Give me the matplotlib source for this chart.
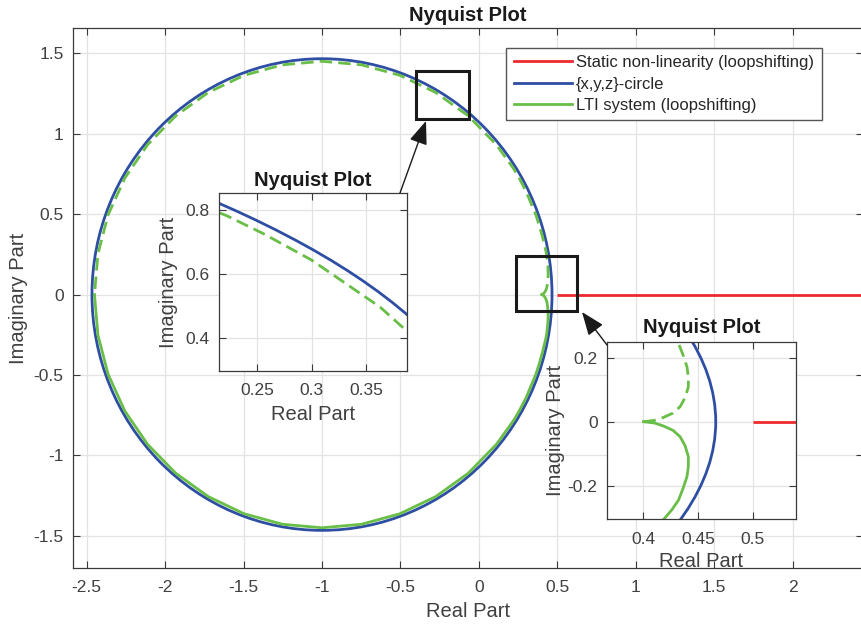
import matplotlib
matplotlib.use("Agg")
import matplotlib.pyplot as plt
from matplotlib.patches import Circle, Rectangle, FancyArrowPatch
from matplotlib.lines import Line2D

plt.rcParams['font.family'] = ['Liberation Sans', 'DejaVu Sans']
plt.rcParams['axes.unicode_minus'] = False

# ---------------- data ----------------
# {x,y,z}-circle: center on real axis and radius
circle_center = -1.0
circle_radius = 1.466

# Static non-linearity (loopshifting): real axis from 0.5 to infinity
red_x = [0.5, 100.0]
red_y = [0.0, 0.0]

# LTI system (loopshifting) -- upper half (dashed), from cusp to left end
lti_upper_x = [0.400, 0.410, 0.418, 0.427, 0.4335, 0.438, 0.441, 0.441, 0.4397, 0.436,
               0.432, 0.426, 0.418, 0.405, 0.385, 0.363, 0.300, 0.256, 0.2224, 0.111,
               -0.068, -0.275, -0.504, -0.748, -1.000, -1.252, -1.496, -1.725, -1.932,
               -2.111, -2.256, -2.363, -2.428, -2.450]
lti_upper_y = [0.000, 0.004, 0.013, 0.027, 0.047, 0.075, 0.109, 0.140, 0.172, 0.210,
               0.245, 0.275, 0.307, 0.360, 0.429, 0.496, 0.643, 0.725, 0.781, 0.932,
               1.111, 1.256, 1.363, 1.428, 1.450, 1.428, 1.363, 1.256, 1.111,
               0.932, 0.725, 0.496, 0.252, 0.000]
# lower half (solid), mirror image
lti_lower_x = list(lti_upper_x)
lti_lower_y = [-v for v in lti_upper_y]

# ticks
main_xticks = [-2.5, -2, -1.5, -1, -0.5, 0, 0.5, 1, 1.5, 2]
main_xticklabels = ['-2.5', '-2', '-1.5', '-1', '-0.5', '0', '0.5', '1', '1.5', '2']
main_yticks = [-1.5, -1, -0.5, 0, 0.5, 1, 1.5]
main_yticklabels = ['-1.5', '-1', '-0.5', '0', '0.5', '1', '1.5']
in1_xticks = [0.25, 0.3, 0.35]
in1_xticklabels = ['0.25', '0.3', '0.35']
in1_yticks = [0.4, 0.6, 0.8]
in1_yticklabels = ['0.4', '0.6', '0.8']
in2_xticks = [0.4, 0.45, 0.5]
in2_xticklabels = ['0.4', '0.45', '0.5']
in2_yticks = [-0.2, 0, 0.2]
in2_yticklabels = ['-0.2', '0', '0.2']

legend_labels = ['Static non-linearity (loopshifting)', '{x,y,z}-circle', 'LTI system (loopshifting)']

# zoom boxes (data coords): x0, y0, width, height
box1 = (-0.401, 1.089, 0.341, 0.300)
box2 = (0.238, -0.104, 0.390, 0.346)

# ---------------- style ----------------
RED = '#EE2A2E'
BLUE = '#2D4EA2'
GREEN = '#68BE46'
TXT = '#404040'
SPINE = '#3A3A3A'
GRID = '#E3E3E3'
LW = 2.0

W, H = 861, 630
fig = plt.figure(figsize=(W / 100, H / 100), dpi=100)


def ax_rect(l, r, t, b):
    return [l / W, 1 - b / H, (r - l) / W, (b - t) / H]


def style_axes(ax, xt, xtl, yt, ytl, fs=12.5):
    ax.set_xticks(xt)
    ax.set_xticklabels(xtl)
    ax.set_yticks(yt)
    ax.set_yticklabels(ytl)
    ax.tick_params(direction='in', length=5, width=0.8, colors=SPINE,
                   labelcolor=TXT, labelsize=fs, top=True, right=True)
    ax.tick_params(axis='x', pad=9)
    ax.tick_params(axis='y', pad=7)
    ax.grid(True, color=GRID, linewidth=0.9)
    ax.set_axisbelow(True)
    for s in ax.spines.values():
        s.set_color(SPINE)
        s.set_linewidth(0.9)


def draw_data(ax):
    ax.plot(red_x, red_y, color=RED, lw=LW, solid_capstyle='butt')
    ax.add_patch(Circle((circle_center, 0), circle_radius, fill=False,
                        edgecolor=BLUE, lw=LW))
    ax.plot(lti_upper_x, lti_upper_y, color=GREEN, lw=LW, ls=(0, (4.5, 2.2)))
    ax.plot(lti_lower_x, lti_lower_y, color=GREEN, lw=LW)


# main axes
ax = fig.add_axes(ax_rect(73.3, 863, 28, 568))
draw_data(ax)
ax.set_xlim(-2.585, 2.448)
ax.set_ylim(-1.70, 1.657)
style_axes(ax, main_xticks, main_xticklabels, main_yticks, main_yticklabels)
ax.set_xlabel('Real Part', fontsize=14.5, color=TXT, labelpad=5)
ax.set_ylabel('Imaginary Part', fontsize=14.5, color=TXT, labelpad=4)
ax.set_title('Nyquist Plot', fontsize=14.5, fontweight='bold', color='#1a1a1a', pad=5)

handles = [Line2D([], [], color=RED, lw=LW), Line2D([], [], color=BLUE, lw=LW),
           Line2D([], [], color=GREEN, lw=LW)]
leg = ax.legend(handles, legend_labels, loc='upper right', bbox_to_anchor=(821.7 / W, 1 - 47.7 / H),
                bbox_transform=fig.transFigure, fontsize=12, fancybox=False,
                framealpha=1, edgecolor='#555555', handlelength=3.5, handletextpad=0.25,
                borderpad=0.45, labelspacing=0.38, borderaxespad=0)
leg.get_frame().set_linewidth(1.0)
for t in leg.get_texts():
    t.set_color('#262626')

for b in (box1, box2):
    ax.add_patch(Rectangle((b[0], b[1]), b[2], b[3], fill=False, edgecolor='#1a1a1a',
                           lw=2.2, zorder=5))

# inset 1
ax1 = fig.add_axes(ax_rect(219, 406.7, 193.3, 370.7))
draw_data(ax1)
ax1.set_xlim(0.2147, 0.3875)
ax1.set_ylim(0.297, 0.852)
style_axes(ax1, in1_xticks, in1_xticklabels, in1_yticks, in1_yticklabels, fs=12.5)
ax1.set_xlabel('Real Part', fontsize=14.5, color=TXT, labelpad=5)
ax1.set_ylabel('Imaginary Part', fontsize=14.5, color=TXT, labelpad=5)
ax1.set_title('Nyquist Plot', fontsize=14.5, fontweight='bold', color='#1a1a1a', pad=5)

# inset 2
ax2 = fig.add_axes(ax_rect(607.3, 795.7, 341.7, 519))
draw_data(ax2)
ax2.set_xlim(0.367, 0.539)
ax2.set_ylim(-0.304, 0.25)
style_axes(ax2, in2_xticks, in2_xticklabels, in2_yticks, in2_yticklabels, fs=12.5)
ax2.set_xlabel('Real Part', fontsize=14.5, color=TXT, labelpad=4)
ax2.set_ylabel('Imaginary Part', fontsize=14.5, color=TXT, labelpad=2)
ax2.set_title('Nyquist Plot', fontsize=14.5, fontweight='bold', color='#1a1a1a', pad=6)

# arrows (figure pixel coords)
def fig_arrow(x0, y0, x1, y1):
    fig.patches.append(FancyArrowPatch(
        (x0 / W, 1 - y0 / H), (x1 / W, 1 - y1 / H), transform=fig.transFigure,
        arrowstyle='-|>,head_length=0.9,head_width=0.35', mutation_scale=16,
        color='#1a1a1a', lw=1.0, shrinkA=0, shrinkB=0, figure=fig))

fig_arrow(400, 193, 426, 121)
fig_arrow(607, 345, 582, 312)

fig.savefig('out.png', dpi=100)
